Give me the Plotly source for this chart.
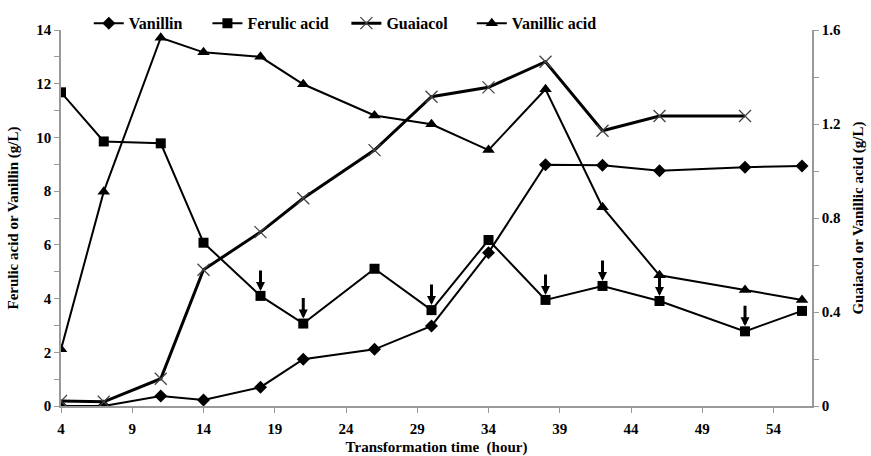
import plotly.graph_objects as go

hours = [4, 7, 11, 14, 18, 21, 26, 30, 34, 38, 42, 46, 52, 56]
vanillin = [0.0, 0.0, 0.37, 0.22, 0.70, 1.74, 2.11, 2.98, 5.71, 8.98, 8.96, 8.76, 8.89, 8.94]
ferulic = [11.68, 9.85, 9.78, 6.08, 4.10, 3.07, 5.11, 3.57, 6.18, 3.95, 4.47, 3.91, 2.78, 3.54]
guaiacol_hours = [4, 7, 11, 14, 18, 21, 26, 30, 34, 38, 42, 46, 52]
guaiacol = [0.021, 0.018, 0.116, 0.58, 0.74, 0.884, 1.089, 1.316, 1.356, 1.465, 1.171, 1.234, 1.234]
vanillic = [0.241, 0.912, 1.567, 1.505, 1.486, 1.369, 1.236, 1.199, 1.089, 1.348, 0.846, 0.556, 0.494, 0.451]
feed_hours = [18, 21, 30, 38, 42, 46, 52]

FONT = '"Liberation Serif", "Times New Roman", serif'
fig = go.Figure()

fig.add_trace(go.Scatter(x=hours, y=vanillin, name="Vanillin", mode="lines+markers",
                         legend="legend",
                         line=dict(color="black", width=2),
                         marker=dict(symbol="diamond", size=10, color="black")))
fig.add_trace(go.Scatter(x=hours, y=ferulic, name="Ferulic acid", mode="lines+markers",
                         legend="legend2",
                         line=dict(color="black", width=2),
                         marker=dict(symbol="square", size=10, color="black")))
fig.add_trace(go.Scatter(x=guaiacol_hours, y=guaiacol, name="Guaiacol", mode="lines+markers",
                         yaxis="y2", legend="legend3",
                         line=dict(color="black", width=3),
                         marker=dict(symbol="x-thin", size=12, color="#333",
                                     line=dict(width=1.3, color="#444"))))
fig.add_trace(go.Scatter(x=hours, y=vanillic, name="Vanillic acid", mode="lines+markers",
                         yaxis="y2", legend="legend4",
                         line=dict(color="black", width=2),
                         marker=dict(symbol="triangle-up", size=11, color="black")))

for h in feed_hours:
    fy = ferulic[hours.index(h)]
    fig.add_annotation(x=h, y=fy, xref="x", yref="y", ax=0, ay=-27,
                       showarrow=True, arrowhead=2, arrowsize=0.6, arrowwidth=3,
                       arrowcolor="black", standoff=5, text="")

tickfont = dict(family=FONT, size=15, color="black", weight="bold")
titlefont = dict(family=FONT, size=15, color="black", weight="bold")
axcol = "#999"


def leg(x):
    return dict(orientation="h", x=x, y=1.018, xanchor="left", yanchor="middle",
                font=dict(family=FONT, size=16, color="black", weight="bold"),
                bgcolor="rgba(0,0,0,0)", itemwidth=30)


fig.update_layout(
    width=871, height=456,
    margin=dict(l=61, r=59, t=30, b=50, autoexpand=False),
    paper_bgcolor="white", plot_bgcolor="white",
    showlegend=True,
    legend=leg(0.037), legend2=leg(0.195), legend3=leg(0.380), legend4=leg(0.547),
    xaxis=dict(range=[4, 56.7], tick0=4, dtick=5, showgrid=False, zeroline=False,
               showline=True, linecolor=axcol, linewidth=1.5, ticks="outside",
               ticklen=5, tickcolor=axcol, tickfont=tickfont, automargin=False,
               ticklabelstandoff=3,
               title=dict(text="Transformation time  (hour)", font=titlefont, standoff=7)),
    yaxis=dict(range=[0, 14], dtick=2, showgrid=False, zeroline=False,
               showline=True, linecolor=axcol, linewidth=1.5, ticks="outside",
               ticklen=5, tickcolor=axcol, tickfont=tickfont, automargin=False,
               minor=dict(dtick=1, ticks="outside", ticklen=5, tickcolor=axcol, showgrid=False),
               title=dict(text="Ferulic acid or Vanillin (g/L)", font=titlefont, standoff=14)),
    yaxis2=dict(range=[0, 1.6], dtick=0.4, overlaying="y", side="right", showgrid=False,
                zeroline=False, showline=True, linecolor=axcol, linewidth=1.5,
                ticks="outside", ticklen=5, tickcolor=axcol, tickfont=tickfont, automargin=False,
                minor=dict(dtick=0.2, ticks="outside", ticklen=5, tickcolor=axcol, showgrid=False),
                title=dict(text="Guaiacol or Vanillic acid (g/L)", font=titlefont, standoff=12)),
)

fig.write_html("out.html")
